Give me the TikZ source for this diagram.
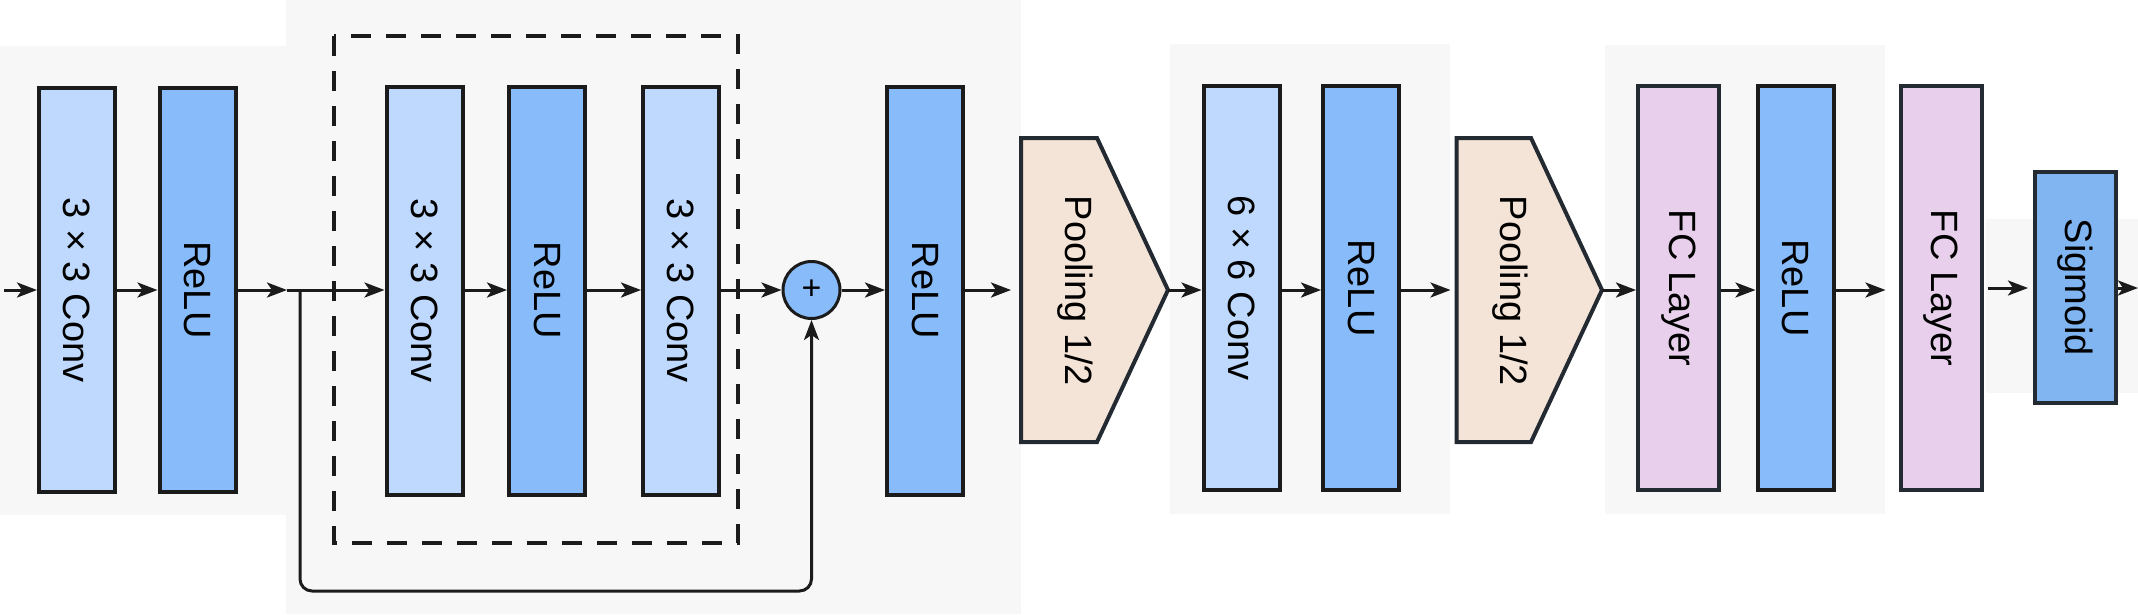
\documentclass[tikz,border=0pt]{standalone}
\usepackage{fontspec}
\setmainfont{Liberation Sans}
\usepackage{graphicx}
\usetikzlibrary{arrows.meta}
\definecolor{convc}{HTML}{BED9FD}
\definecolor{reluc}{HTML}{87BBF9}
\definecolor{sigc}{HTML}{80B5F2}
\definecolor{poolc}{HTML}{F4E4D8}
\definecolor{fcc}{HTML}{E8D0EC}
\definecolor{panelc}{HTML}{F7F7F7}
\definecolor{edgec}{HTML}{1B1B1B}
\definecolor{edgeb}{HTML}{232A31}
\newcommand{\vtext}[1]{\rotatebox{-90}{#1}}
\begin{document}
\begin{tikzpicture}[x=1pt,y=-1pt,
  font=\fontsize{38}{44}\selectfont,
  box/.style={draw=edgec, line width=4pt, inner sep=0pt, minimum width=76pt, minimum height=404pt},
  conv/.style={box, fill=convc},
  relu/.style={box, fill=reluc},
  fc/.style={box, fill=fcc, draw=edgeb, minimum width=81pt},
  sig/.style={box, fill=sigc, draw=edgeb, minimum width=81pt, minimum height=231pt},
  poolshape/.style={draw=edgeb, line width=4pt, fill=poolc, line join=miter},
  panel/.style={fill=panelc, draw=none},
  wire/.style={line width=3pt, draw=edgec},
  link/.style={wire, -{Stealth[length=20pt,width=15pt,inset=5pt]}},
  dashbox/.style={draw=edgec, line width=4pt, dash pattern=on 20pt off 15pt},
  addnode/.style={circle, draw=edgec, line width=3pt, fill=reluc, minimum size=57pt, inner sep=0pt, font=\fontsize{34}{34}\selectfont}
]
\useasboundingbox (0,0) rectangle (2138,614);
\fill[white] (0,0) rectangle (2138,614);
% background panels
\fill[panel] (0,46) rectangle (286,515);
\fill[panel] (286,0) rectangle (1021,614);
\fill[panel] (1170,44) rectangle (1450,514);
\fill[panel] (1605,45) rectangle (1885,514);
\fill[panel] (1986,219) rectangle (2138,393);
% dashed residual block
\draw[dashbox] (334,36) rectangle (738,543);
% layers
\node[conv] (conv1) at (77,290) {\vtext{3 × 3 Conv}};
\node[relu] (relu1) at (197.5,290) {\vtext{ReLU}};
\node[conv, minimum height=408pt] (conv2) at (424.5,290.5) {\vtext{3 × 3 Conv}};
\node[relu, minimum height=408pt] (relu2) at (547,290.5) {\vtext{ReLU}};
\node[conv, minimum height=408pt] (conv3) at (681,290.5) {\vtext{3 × 3 Conv}};
\node[addnode] (add) at (811.5,290) {+};
\node[relu, minimum height=408pt] (relu3) at (925,290.5) {\vtext{ReLU}};
% pooling 1
\draw[poolshape] (1021,138) -- (1097,138) -- (1168,290) -- (1097,442) -- (1021,442) -- cycle;
\coordinate (pool1in) at (1021,290);
\coordinate (pool1out) at (1168,290);
\node (pool1) at (1075,291) {\vtext{Pooling 1/2}};
\node[conv] (conv4) at (1241.5,288) {\vtext{6 × 6 Conv}};
\node[relu] (relu4) at (1361,288) {\vtext{ReLU}};
% pooling 2
\draw[poolshape] (1456.5,138) -- (1531,138) -- (1602,290) -- (1531,442) -- (1456.5,442) -- cycle;
\coordinate (pool2in) at (1456.5,290);
\coordinate (pool2out) at (1602,290);
\node (pool2) at (1510,291) {\vtext{Pooling 1/2}};
\node[fc] (fc1) at (1678.5,288) {\vtext{FC Layer}};
\node[relu] (relu5) at (1795.5,288) {\vtext{ReLU}};
\node[fc] (fc2) at (1941,288) {\vtext{FC Layer}};
\node[sig] (sig) at (2075.5,287.5) {\vtext{Sigmoid}};
% connectors
\coordinate (in) at (4,290);
\coordinate (p1) at (287,290);
\coordinate (split) at (300,290);
\coordinate (out) at (2138,288);
\draw[link] (in) -- (conv1.west);
\draw[link] (conv1.east) -- (relu1.west);
\draw[link] (relu1.east) -- (p1);
\draw[link] (p1) -- (conv2.west |- p1);
\draw[link] (conv2.east |- p1) -- (relu2.west |- p1);
\draw[link] (relu2.east |- p1) -- (conv3.west |- p1);
\draw[link] (conv3.east |- p1) -- (add.west);
\draw[link] (add.east) -- (relu3.west |- add);
\draw[link, shorten >=10pt] (relu3.east |- add) -- (pool1in);
\draw[link] (pool1out) -- (conv4.west |- pool1out);
\draw[link] (conv4.east |- pool1out) -- (relu4.west |- pool1out);
\draw[link, shorten >=6pt] (relu4.east |- pool1out) -- (pool2in);
\draw[link] (pool2out) -- (fc1.west |- pool2out);
\draw[link] (fc1.east |- pool2out) -- (relu5.west |- pool2out);
\draw[link, shorten >=13pt] (relu5.east |- pool2out) -- (fc2.west |- pool2out);
\draw[link, shorten <=4pt, shorten >=5pt] (fc2.east |- out) -- (sig.west |- out);
\draw[link] (sig.east |- out) -- (out);
% skip connection
\draw[link, rounded corners=12pt] (split) -- (300,591) -- (811.5,591) -- (add.south);
\end{tikzpicture}
\end{document}
